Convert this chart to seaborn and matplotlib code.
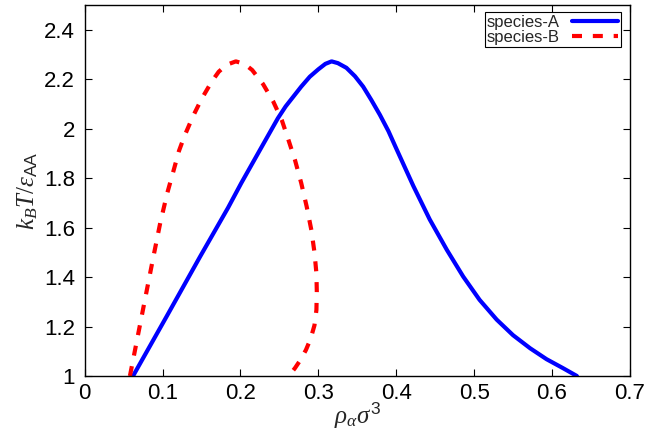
import matplotlib
matplotlib.use("Agg")
import matplotlib.pyplot as plt
import seaborn as sns
import pandas as pd

# species-A coexistence curve (density, temperature)
rho_A = [0.062, 0.105, 0.148, 0.184, 0.201, 0.225, 0.248, 0.258, 0.268, 0.278,
         0.289, 0.300, 0.309, 0.317, 0.325, 0.336, 0.347, 0.3575, 0.368, 0.379,
         0.390, 0.400, 0.422, 0.443, 0.465, 0.486, 0.507, 0.529, 0.550, 0.572,
         0.593, 0.614, 0.632]
T_A = [1.000, 1.240, 1.482, 1.680, 1.780, 1.914, 2.042, 2.090, 2.130, 2.170,
       2.210, 2.240, 2.262, 2.272, 2.265, 2.246, 2.212, 2.170, 2.116, 2.056,
       1.990, 1.920, 1.768, 1.633, 1.510, 1.402, 1.308, 1.228, 1.165, 1.112,
       1.068, 1.032, 1.000]

# species-B coexistence curve (density, temperature), traced as a loop
rho_B = [0.058, 0.068, 0.078, 0.088, 0.097, 0.106, 0.114, 0.121, 0.128, 0.139,
         0.150, 0.163, 0.172, 0.182, 0.194, 0.205, 0.215, 0.229, 0.242, 0.253,
         0.261, 0.270, 0.278, 0.285, 0.291, 0.295, 0.2975, 0.298, 0.2975, 0.295,
         0.290, 0.284, 0.277, 0.270, 0.262]
T_B = [1.000, 1.160, 1.320, 1.480, 1.620, 1.740, 1.830, 1.910, 1.970, 2.050,
       2.120, 2.190, 2.230, 2.258, 2.272, 2.262, 2.237, 2.180, 2.110, 2.035,
       1.960, 1.873, 1.780, 1.685, 1.590, 1.500, 1.415, 1.340, 1.267, 1.205,
       1.150, 1.105, 1.065, 1.032, 1.000]

x_ticks = [0, 0.1, 0.2, 0.3, 0.4, 0.5, 0.6, 0.7]
x_ticklabels = ["0", "0.1", "0.2", "0.3", "0.4", "0.5", "0.6", "0.7"]
y_ticks = [1, 1.2, 1.4, 1.6, 1.8, 2, 2.2, 2.4]
y_ticklabels = ["1", "1.2", "1.4", "1.6", "1.8", "2", "2.2", "2.4"]

sns.set_style("ticks")
plt.rcParams["font.family"] = ["Liberation Sans", "DejaVu Sans"]
plt.rcParams["mathtext.fontset"] = "custom"
plt.rcParams["mathtext.rm"] = "Liberation Serif"
plt.rcParams["mathtext.it"] = "Liberation Serif:italic"
plt.rcParams["mathtext.sf"] = "Liberation Sans"

df_A = pd.DataFrame({"rho": rho_A, "T": T_A})
df_B = pd.DataFrame({"rho": rho_B, "T": T_B})

fig = plt.figure(figsize=(6.52, 4.30), dpi=100)
ax = fig.add_axes([0.130, 0.1256, 0.836, 0.8628])

sns.lineplot(data=df_A, x="rho", y="T", sort=False, estimator=None, ax=ax,
             color="#0000ff", linewidth=3.0, label="species-A")
sns.lineplot(data=df_B, x="rho", y="T", sort=False, estimator=None, ax=ax,
             color="#ff0000", linewidth=3.0, label="species-B")
ax.lines[0].set_solid_joinstyle("round")
ax.lines[1].set_dashes([2.4, 2.6])

ax.set_xlim(0, 0.7)
ax.set_ylim(1, 2.5)
ax.set_xticks(x_ticks)
ax.set_xticklabels(x_ticklabels)
ax.set_yticks(y_ticks)
ax.set_yticklabels(y_ticklabels)
ax.tick_params(direction="in", top=True, right=True, length=5, width=0.8,
               labelsize=16, colors="black")
ax.tick_params(axis="x", pad=5)
ax.tick_params(axis="y", pad=7)
for s in ax.spines.values():
    s.set_visible(True)
    s.set_linewidth(1.0)
    s.set_color("black")

ax.set_xlabel(r"$\rho_\alpha\sigma^{\mathsf{3}}$", fontsize=18, labelpad=-3)
ax.set_ylabel(r"$k_BT/\varepsilon_{\mathsf{AA}}$", fontsize=18, labelpad=3)

leg = ax.legend(loc="upper right", bbox_to_anchor=(0.9835, 0.981), markerfirst=False,
                fontsize=12, frameon=True, fancybox=False, framealpha=1,
                edgecolor="black", handlelength=2.8, labelspacing=0.0,
                borderpad=0.15, handletextpad=0.7, borderaxespad=0.0)
leg.get_frame().set_linewidth(0.8)

fig.savefig("out.png", dpi=100)
